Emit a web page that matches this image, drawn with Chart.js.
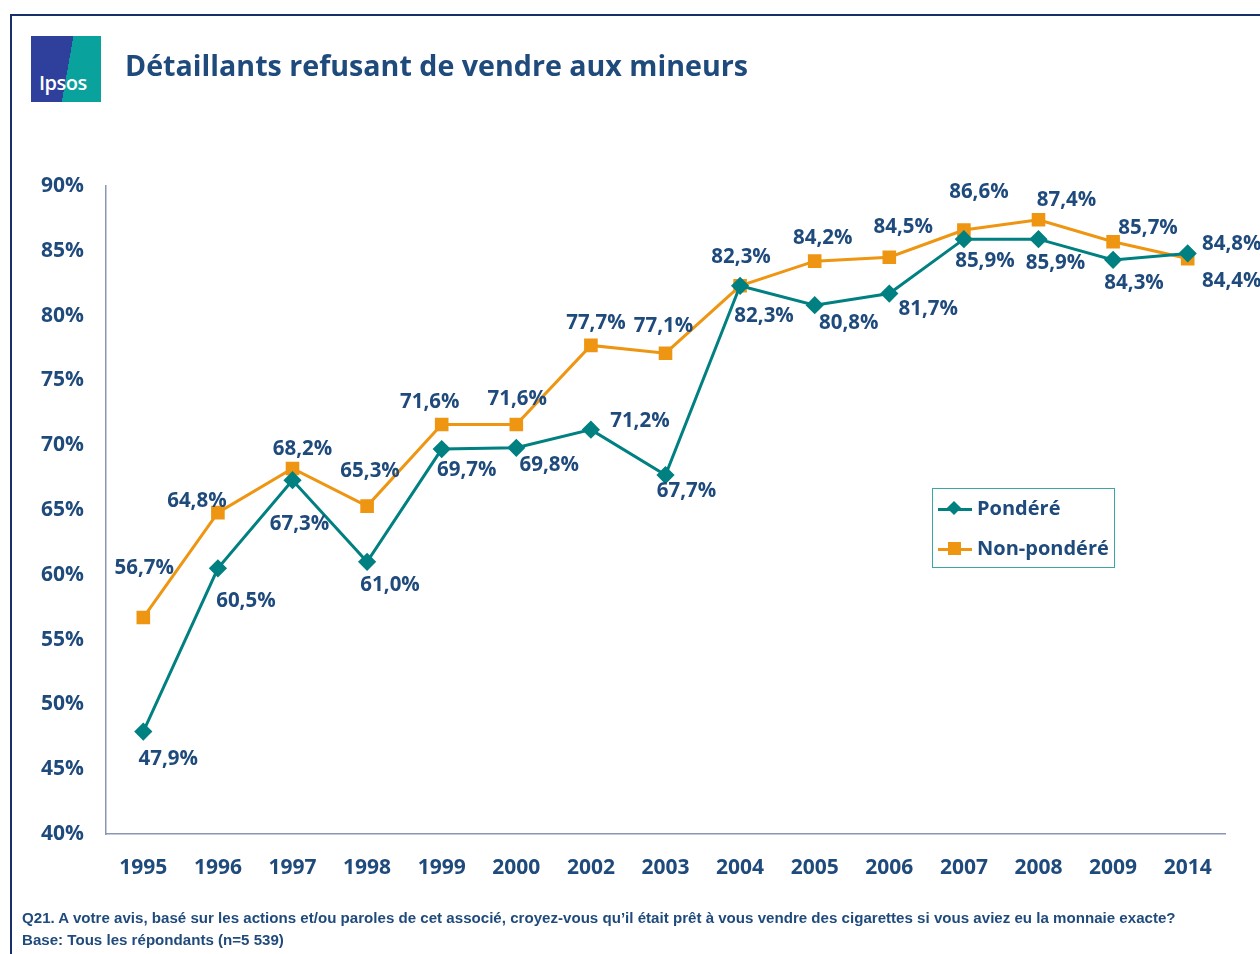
<!DOCTYPE html>
<html>
<head>
<meta charset="utf-8">
<script src="https://cdn.jsdelivr.net/npm/chart.js"></script>
<style>
  html, body { margin: 0; padding: 0; background: #fff; }
  body { width: 1260px; height: 954px; position: relative; overflow: hidden; font-family: "Open Sans", sans-serif; }
  #frame { position: absolute; left: 10px; top: 14px; width: 1270px; height: 960px; border: 2px solid #1c2d6b; box-sizing: border-box; }
  #chart { position: absolute; left: 0; top: 0; }
  #logo { position: absolute; left: 31px; top: 36px; width: 70px; height: 66px;
    background: linear-gradient(100deg, #2f3f9c 0 52%, #0aa29c 52% 100%); }
  #logo span { position: absolute; left: 8px; bottom: 6px; color: #fff; font: 600 20px "Open Sans", sans-serif; letter-spacing: -0.5px; }
  #title { position: absolute; left: 125px; top: 45px; color: #1f4a7c; font: 700 29px "Open Sans", sans-serif; white-space: nowrap; transform-origin: 0 0; }
  .foot { position: absolute; left: 22px; color: #1f4a7c; font: 700 14px "Liberation Sans Narrow", sans-serif; white-space: nowrap; transform-origin: 0 0; }
  #legend { position: absolute; left: 932px; top: 488px; width: 183px; height: 80px; border: 1px solid #3aa6a6; box-sizing: border-box; }
  .item { position: absolute; left: 5px; height: 24px; color: #1f4a7c; font: 700 20px "Open Sans", sans-serif; white-space: nowrap; }
  .item i { position: absolute; left: 0; top: 11px; width: 34px; height: 3px; }
  .item b { position: absolute; }
  .item em { position: absolute; left: 39px; top: -3px; font-style: normal; }
</style>
</head>
<body>
<div id="frame"></div>
<canvas id="chart" width="1260" height="954"></canvas>
<div id="logo"><span>Ipsos</span></div>
<div id="title">Détaillants refusant de vendre aux mineurs</div>
<div id="legend">
  <div class="item" style="top:8px"><i style="background:#008080"></i><b style="left:11px;top:6px;width:10px;height:10px;background:#008080;transform:rotate(45deg)"></b><em>Pondéré</em></div>
  <div class="item" style="top:48px"><i style="background:#ee9512"></i><b style="left:10px;top:5px;width:13px;height:13px;background:#ee9512"></b><em>Non-pondéré</em></div>
</div>
<div class="foot" id="foot1" style="top:910px">Q21. A votre avis, basé sur les actions et/ou paroles de cet associé, croyez-vous qu’il était prêt à vous vendre des cigarettes si vous aviez eu la monnaie exacte?</div>
<div class="foot" id="foot2" style="top:932px">Base: Tous les répondants (n=5 539)</div>
<script>
const years = ["1995", "1996", "1997", "1998", "1999", "2000", "2002", "2003", "2004", "2005", "2006", "2007", "2008", "2009", "2014"];
const ponderes = [47.9, 60.5, 67.3, 61.0, 69.7, 69.8, 71.2, 67.7, 82.3, 80.8, 81.7, 85.9, 85.9, 84.3, 84.8];
const nonPonderes = [56.7, 64.8, 68.2, 65.3, 71.6, 71.6, 77.7, 77.1, 82.3, 84.2, 84.5, 86.6, 87.4, 85.7, 84.4];
const yTicks = [40, 45, 50, 55, 60, 65, 70, 75, 80, 85, 90];

// where each value label sits relative to its point
const ponderesOffsets = [[25, 28], [28, 33], [7, 44], [23, 23], [25, 21], [33, 17], [49, -8], [21, 16], [24, 30], [34, 18], [39, 16], [21, 22], [17, 24], [21, 23], [44, -9]];
const nonPonderesOffsets = [[1, -49], [-21, -11], [10, -19], [3, -35], [-12, -22], [1, -25], [5, -22], [-2, -27], [1, -29], [8, -23], [14, -30], [15, -38], [28, -20], [35, -14], [44, 23]];

const TEXT = "#1f4a7c";
const FONT = "'Open Sans', sans-serif";

function fitWidth(id, target) {
  const el = document.getElementById(id);
  el.style.transform = "scaleX(" + (target / el.offsetWidth) + ")";
}
fitWidth("title", 623);
fitWidth("foot1", 1154);
fitWidth("foot2", 262);

const fmt = v => v.toFixed(1).replace(".", ",") + "%";

const valueLabels = {
  id: "valueLabels",
  afterDatasetsDraw(chart) {
    const ctx = chart.ctx;
    const offsets = [ponderesOffsets, nonPonderesOffsets];
    ctx.save();
    ctx.font = "700 20.5px " + FONT;
    ctx.fillStyle = TEXT;
    ctx.textAlign = "center";
    ctx.textBaseline = "middle";
    chart.data.datasets.forEach((ds, di) => {
      chart.getDatasetMeta(di).data.forEach((pt, i) => {
        const o = offsets[di][i];
        ctx.fillText(fmt(ds.data[i]), pt.x + o[0], pt.y + o[1]);
      });
    });
    ctx.restore();
  }
};

new Chart(document.getElementById("chart").getContext("2d"), {
  type: "line",
  data: {
    labels: years,
    datasets: [{
      label: "Pondéré",
      data: ponderes,
      borderColor: "#008080",
      backgroundColor: "#008080",
      borderWidth: 3,
      pointStyle: "rectRot",
      pointRadius: 7,
      tension: 0
    }, {
      label: "Non-pondéré",
      data: nonPonderes,
      borderColor: "#ee9512",
      backgroundColor: "#ee9512",
      borderWidth: 3,
      pointStyle: "rect",
      pointRadius: 7.5,
      tension: 0
    }]
  },
  options: {
    responsive: false,
    animation: false,
    layout: { padding: { top: 186, right: 35, left: 0, bottom: 0 } },
    plugins: { legend: { display: false }, tooltip: { enabled: false } },
    scales: {
      x: {
        offset: true,
        grid: { display: false, drawTicks: false },
        border: { display: true, color: "#8c96b4", width: 1.5 },
        ticks: { color: TEXT, font: { family: FONT, size: 21, weight: "700" }, padding: 21, maxRotation: 0 },
        afterFit: s => { s.height = 120; }
      },
      y: {
        min: 40,
        max: 90,
        grid: { display: false, drawTicks: false },
        border: { display: true, color: "#8c96b4", width: 1.5 },
        afterBuildTicks: s => { s.ticks = yTicks.map(v => ({ value: v })); },
        ticks: { color: TEXT, font: { family: FONT, size: 21, weight: "700" }, padding: 22, callback: v => v + "%" },
        afterFit: s => { s.width = 106; }
      }
    }
  },
  plugins: [valueLabels]
});
</script>
</body>
</html>
